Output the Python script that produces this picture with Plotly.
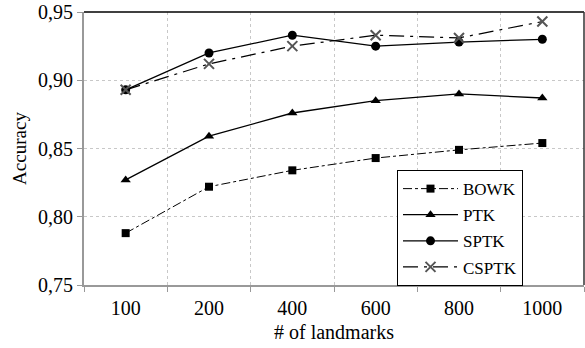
import plotly.graph_objects as go

categories = ["100", "200", "400", "600", "800", "1000"]
bowk = [0.788, 0.822, 0.834, 0.843, 0.849, 0.854]
ptk = [0.827, 0.859, 0.876, 0.885, 0.890, 0.887]
sptk = [0.893, 0.920, 0.933, 0.925, 0.928, 0.930]
csptk = [0.893, 0.912, 0.925, 0.933, 0.931, 0.943]
yticks = [0.75, 0.80, 0.85, 0.90, 0.95]

FONT = "Liberation Serif, Times New Roman, Times, serif"

fig = go.Figure()
fig.add_trace(go.Scatter(x=categories, y=bowk, name="BOWK", mode="lines+markers", legendgroup="a",
                         line=dict(color="black", width=1, dash="dashdot"),
                         marker=dict(symbol="square", size=8, color="black")))
fig.add_trace(go.Scatter(x=categories, y=ptk, name="PTK", mode="lines+markers", legendgroup="b",
                         line=dict(color="black", width=1.3),
                         marker=dict(symbol="triangle-up", size=9, color="black")))
fig.add_trace(go.Scatter(x=categories, y=sptk, name="SPTK", mode="lines+markers", legendgroup="c",
                         line=dict(color="black", width=1.3),
                         marker=dict(symbol="circle", size=9, color="black")))
fig.add_trace(go.Scatter(x=categories, y=csptk, name="CSPTK", mode="lines+markers", legendgroup="d",
                         line=dict(color="black", width=1.2, dash="longdashdot"),
                         marker=dict(symbol="x-thin-open", size=10,
                                     line=dict(color="#555555", width=2), color="#555555")))

fig.add_shape(type="line", xref="paper", yref="paper", x0=0, x1=1, y0=1, y1=1,
              line=dict(color="black", width=1.5))
fig.add_shape(type="line", xref="paper", yref="paper", x0=1, x1=1, y0=0, y1=1,
              line=dict(color="#333333", width=1.5))

fig.update_layout(
    width=585, height=348,
    margin=dict(l=84, r=1, t=12, b=63),
    paper_bgcolor="white", plot_bgcolor="white",
    separators=", ",
    font=dict(family=FONT, size=18, color="black"),
    showlegend=True,
    legend=dict(x=0.626, y=0.421, xanchor="left", yanchor="top",
                bordercolor="black", borderwidth=1, bgcolor="white",
                font=dict(family=FONT, size=17), tracegroupgap=1,
                itemwidth=55),
    xaxis=dict(type="category", categoryorder="array", categoryarray=categories,
               range=[-0.5, 5.5],
               tickson="boundaries", ticks="outside", ticklen=5, tickcolor="#999999",
               ticklabelstandoff=4,
               showline=True, linecolor="#999999", linewidth=2,
               showgrid=True, gridcolor="#c8c8c8", griddash="dot", gridwidth=1,
               title=dict(text="# of landmarks", font=dict(family=FONT, size=20), standoff=7),
               tickfont=dict(family=FONT, size=20), zeroline=False),
    yaxis=dict(range=[0.75, 0.95], tickvals=yticks, tickformat=".2f",
               ticks="outside", ticklen=5, tickcolor="#999999",
               showline=True, linecolor="#999999", linewidth=2,
               showgrid=True, gridcolor="#c8c8c8", griddash="dot", gridwidth=1,
               title=dict(text="Accuracy", font=dict(family=FONT, size=19), standoff=6),
               tickfont=dict(family=FONT, size=20), zeroline=False),
)

fig.write_html("out.html", config={"displayModeBar": False},
               post_script="document.body.style.margin='0';")
